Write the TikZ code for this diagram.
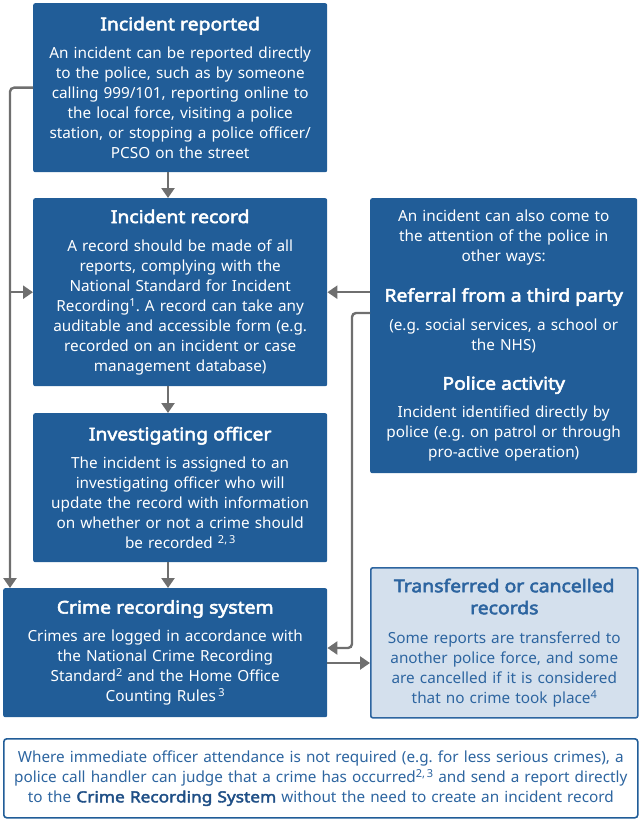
\documentclass[tikz,border=0pt]{standalone}
\usepackage{fontspec}
\setmainfont{Noto Sans}
\newfontfamily\headfont{Noto Sans}[FakeBold=3,FakeStretch=1.1]
\newfontfamily\keyfont{Noto Sans}[FakeBold=2.6,FakeStretch=1.13]
\usetikzlibrary{arrows.meta,positioning,calc}
\definecolor{boxblue}{HTML}{215D98}
\definecolor{paleblue}{HTML}{D4E0ED}
\definecolor{lineblue}{HTML}{2D65A0}
\definecolor{darkblue}{HTML}{1F4F86}
\definecolor{arrowgrey}{HTML}{6F6F6F}

\newcommand{\boxhead}[1]{{\headfont\fontsize{17.6}{22}\selectfont #1}}
\newcommand{\fnref}[1]{\raisebox{0.6ex}{\fontsize{11}{11}\selectfont #1}}
\frenchspacing

\tikzset{
  stage/.style={fill=boxblue,text=white,rounded corners=2pt,anchor=north west,
    align=center,inner xsep=4pt,inner ysep=0pt,font=\fontsize{15.3}{20}\selectfont},
  outcome/.style={stage,fill=paleblue,draw=lineblue,line width=1.6pt,text=lineblue},
  notebox/.style={stage,fill=white,draw=boxblue,line width=1.6pt,text=lineblue,rounded corners=3pt},
  flow/.style={draw=arrowgrey,line width=2.4pt,rounded corners=4pt,
    -{Triangle[length=10pt,width=13pt]}}
}

\begin{document}
\begin{tikzpicture}[x=1pt,y=-1pt]
  \useasboundingbox (0,0) rectangle (640,821);
  % main column
  \node[stage,text width=286pt,minimum width=294pt,minimum height=169pt] (reported) at (33,3)
    {\boxhead{Incident reported}\\[8pt]
     An incident can be reported directly\\ to the police, such as by someone\\
     calling 999/101, reporting online to\\ the local force, visiting a police\\
     station, or stopping a police officer/\\ PCSO on the street};
  \node[stage,text width=286pt,minimum width=294pt,minimum height=188pt] (record) at (33,198)
    {\boxhead{Incident record}\\[8pt]
     A record should be made of all\\ reports, complying with the\\
     National Standard for Incident\\ Recording\fnref{1}. A record can take any\\
     auditable and accessible form (e.g.\\ recorded on an incident or case\\
     management database)};
  \node[stage,text width=286pt,minimum width=294pt,minimum height=149pt] (officer) at (33,413)
    {\boxhead{Investigating officer}\\[8pt]
     The incident is assigned to an\\ investigating officer who will\\
     update the record with information\\ on whether or not a crime should\\
     be recorded \fnref{2,\,3}};
  \node[stage,text width=316pt,minimum width=324pt,minimum height=129pt] (crimes) at (3,588)
    {\boxhead{Crime recording system}\\[8pt]
     Crimes are logged in accordance with\\ the National Crime Recording\\
     Standard\fnref{2} and the Home Office\\ Counting Rules\,\fnref{3}};
  % other routes in
  \node[stage,text width=259pt,minimum width=267pt,minimum height=275pt] (other) at (370,198)
    {An incident can also come to\\ the attention of the police in\\ other ways:\\[20pt]
     \boxhead{Referral from a third party}\\[9pt]
     (e.g. social services, a school or\\ the NHS)\\[19pt]
     \boxhead{Police activity}\\[8pt]
     Incident identified directly by\\ police (e.g. on patrol or through\\
     pro-active operation)};
  \node[outcome,text width=259pt,minimum width=267pt,minimum height=150pt] (transfer) at (370,567)
    {\boxhead{Transferred or cancelled}\\[2pt] \boxhead{records}\\[9pt]
     Some reports are transferred to\\ another police force, and some\\
     are cancelled if it is considered\\ that no crime took place\fnref{4}};
  \node[notebox,text width=626pt,minimum width=634pt,minimum height=79pt] (direct) at (3,738)
    {Where immediate officer attendance is not required (e.g. for less serious crimes), a\\
     police call handler can judge that a crime has occurred\fnref{2,\,3} and send a report directly\\
     to the \textcolor{darkblue}{\keyfont Crime Recording System} without the need to create an incident record};
  % connectors
  \coordinate (spine) at (10,0);
  \coordinate (mid) at (168,0);
  \draw[flow] (reported.south -| mid) -- (record.north -| mid);
  \draw[flow] (record.south -| mid) -- (officer.north -| mid);
  \draw[flow] (officer.south -| mid) -- (crimes.north -| mid);
  \draw[flow] (reported.west) -| (crimes.north -| spine);
  \draw[flow,rounded corners=0pt] (spine |- record.west) -- (record.west);
  \draw[flow] (other.west |- record.east) -- (record.east);
  \coordinate (drop) at (352,313);
  \draw[flow] (other.west |- drop) -| (352,648) -- (crimes.east |- 0,648);
  \draw[flow] (crimes.east |- 0,663) -- (transfer.west |- 0,663);
\end{tikzpicture}
\end{document}
